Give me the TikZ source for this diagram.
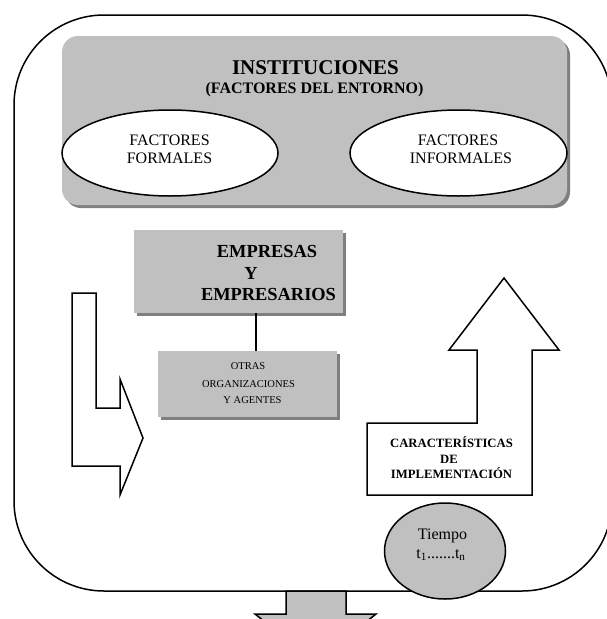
\documentclass[tikz,border=0pt]{standalone}
\usepackage{fontspec}
\setmainfont{Liberation Serif}
\usetikzlibrary{shapes.geometric,shadows}
\definecolor{boxgray}{HTML}{C0C0C0}
\definecolor{shadowgray}{HTML}{7F7F7F}
\begin{document}
\begin{tikzpicture}[x=1pt,y=-1pt,
  outline/.style={draw=black,line width=1.5pt,line join=miter},
  shadowbox/.style={fill=boxgray,inner sep=0pt,
    drop shadow={shadow xshift=3pt,shadow yshift=-3pt,fill=shadowgray,opacity=1}},
  oval/.style={ellipse,outline,fill=white,inner sep=0pt},
  lbl/.style={anchor=base,inner sep=0pt},
  bigbold/.style={lbl,font=\fontsize{21}{25}\selectfont\bfseries},
  midbold/.style={lbl,font=\fontsize{16}{19}\selectfont\bfseries},
  empbold/.style={lbl,font=\fontsize{18.4}{22}\selectfont\bfseries},
  midreg/.style={lbl,font=\fontsize{16}{19}\selectfont},
  smallreg/.style={lbl,font=\fontsize{10.5}{13}\selectfont},
  carbold/.style={lbl,font=\fontsize{12.7}{15}\selectfont\bfseries}
]
\useasboundingbox (0,0) rectangle (606,619);

% bottom arrow (behind the frame)
\draw[outline,fill=boxgray] (286,591) -- (286,614) -- (255,614) -- (316,662)
  -- (376,614) -- (346,614) -- (346,591) -- cycle;

% outer frame
\node[outline,rounded corners=90pt,minimum width=598pt,minimum height=576pt,inner sep=0pt]
  (outer) at (313,303) {};

% institutions box
\node[shadowbox,rounded corners=16pt,minimum width=505pt,minimum height=169pt]
  (inst) at (314.5,120.5) {};
\node[bigbold] (insttitle) at (315.5,74) {INSTITUCIONES};
\node[midbold] (instsub) at (314.5,93) {(FACTORES DEL ENTORNO)};

\node[oval,minimum width=216pt,minimum height=86pt] (formal) at (170,153) {};
\node[midreg] (formal1) at (169.5,145) {FACTORES};
\node[midreg] (formal2) at (169.5,163) {FORMALES};

\node[oval,minimum width=217pt,minimum height=86pt] (informal) at (458.5,153) {};
\node[midreg] (informal1) at (458,145) {FACTORES};
\node[midreg] (informal2) at (461,163) {INFORMALES};

% empresas box
\node[shadowbox,minimum width=209pt,minimum height=83pt] (emp) at (238.5,271.5) {};
\node[empbold] (emp1) at (267,257) {EMPRESAS};
\node[empbold] (emp2) at (251,279) {Y};
\node[empbold] (emp3) at (268.5,300) {EMPRESARIOS};

% otras box
\node[shadowbox,minimum width=179pt,minimum height=66pt] (otr) at (247.5,384) {};
\node[smallreg] (otr1) at (248,369) {OTRAS};
\node[smallreg] (otr2) at (248.5,387) {ORGANIZACIONES};
\node[smallreg] (otr3) at (252.5,403) {Y AGENTES};

\coordinate (cx) at (256,0);
\draw[line width=1.2pt] (emp.south -| cx) -- (otr.north -| cx);

% left bent arrow
\draw[outline,fill=white] (72,293) -- (96,293) -- (96,408) -- (120,408) -- (120,379)
  -- (143,438) -- (120,495) -- (120,466) -- (72,466) -- cycle;

% right bent arrow
\draw[outline,fill=white] (367,423) -- (477,423) -- (477,350) -- (449,350) -- (504,278)
  -- (559,350) -- (532,350) -- (532,495) -- (367,495) -- cycle;
\node[carbold] (car1) at (451.5,447) {CARACTERÍSTICAS};
\node[carbold] (car2) at (449,463) {DE};
\node[carbold] (car3) at (451.5,478) {IMPLEMENTACIÓN};

% time circle
\node[ellipse,outline,fill=boxgray,minimum width=121pt,minimum height=96pt,inner sep=0pt]
  (tiempo) at (445,551) {};
\node[midreg] (tiempo1) at (442.5,539) {Tiempo};
\node[midreg] (tiempo2) at (441,558) {t\textsubscript{1}.......t\textsubscript{n}};
\end{tikzpicture}
\end{document}
